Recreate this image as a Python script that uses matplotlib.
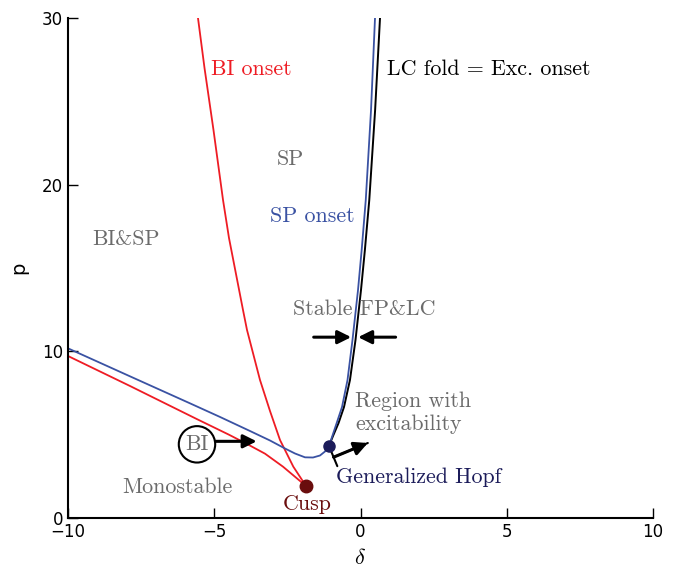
import matplotlib
matplotlib.use("Agg")
import matplotlib.pyplot as plt
from matplotlib.patches import ArrowStyle

plt.rcParams['mathtext.fontset'] = 'cm'

# BI onset, upper branch (from top down to the cusp)
bi_up_x = [-5.60, -5.556, -5.333, -5.026, -4.70, -4.496, -4.017, -3.88, -3.436, -3.094,
           -2.752, -2.297, -1.863]
bi_up_y = [30.5, 30.0, 27.0, 23.28, 19.08, 16.8, 12.48, 11.28, 8.28, 6.42,
           4.68, 3.08, 1.92]
# BI onset, lower branch (from left edge to the cusp)
bi_lo_x = [-10.0, -7.88, -5.60, -4.5, -3.89, -3.265, -2.65, -1.863]
bi_lo_y = [9.72, 7.92, 5.94, 5.0, 4.45, 3.86, 3.08, 1.92]
# SP onset
sp_x = [-10.0, -7.88, -5.829, -4.80, -3.778, -3.094, -2.581, -2.239, -1.897, -1.624,
        -1.385, -1.214, -1.077, -1.043, -0.814, -0.632, -0.444, -0.274, -0.085, 0.04,
        0.18, 0.36, 0.496, 0.52]
sp_y = [10.18, 8.50, 6.88, 6.06, 5.22, 4.65, 4.17, 3.87, 3.64, 3.63,
        3.75, 3.99, 4.32, 4.5, 5.7, 6.66, 8.28, 10.68, 13.68, 16.08,
        19.08, 24.48, 30.0, 30.8]
# LC fold
lc_x = [-1.077, -0.94, -0.75, -0.564, -0.36, -0.171, 0.017, 0.15, 0.30, 0.50, 0.667, 0.69]
lc_y = [4.32, 4.92, 5.7, 6.66, 8.28, 10.68, 13.68, 16.08, 19.08, 24.48, 30.0, 30.8]

cusp = (-1.863, 1.92)
hopf = (-1.077, 4.32)

red = '#ee1c24'
blue = '#3a52a3'
gray = '#6b6b6b'
navy = '#1c1c5a'
darkred = '#6a0d0d'
cm = 'cmr10'
fs = 15.8

fig = plt.figure(figsize=(6.85, 5.69), dpi=100)
ax = fig.add_axes([68/685, 51/569, 585/685, 500/569])

ax.plot(bi_up_x, bi_up_y, color=red, lw=1.3)
ax.plot(bi_lo_x, bi_lo_y, color=red, lw=1.3)
ax.plot(lc_x, lc_y, color='black', lw=1.4)
ax.plot(sp_x, sp_y, color=blue, lw=1.3)
ax.plot(*cusp, 'o', color=darkred, ms=9, zorder=5)
ax.plot(*hopf, 'o', color=navy, ms=8, zorder=5)

ax.text(-5.11, 26.9, 'BI onset', color=red, fontsize=fs, family=cm, va='center')
ax.text(0.9, 26.9, 'LC fold = Exc. onset', color='black', fontsize=fs, family=cm, va='center')
ax.text(-2.41, 21.5, 'SP', color=gray, fontsize=fs, family=cm, ha='center', va='center')
ax.text(-3.09, 18.1, 'SP onset', color=blue, fontsize=fs, family=cm, va='center')
ax.text(-9.18, 16.7, 'BI&SP', color=gray, fontsize=fs, family=cm, va='center')
ax.text(-2.31, 12.5, 'Stable FP&LC', color=gray, fontsize=fs, family=cm, va='center')
ax.text(-0.19, 6.33, 'Region with\nexcitability', color=gray, fontsize=fs, family=cm,
        va='center', linespacing=1.2)
ax.text(-8.15, 1.86, 'Monostable', color=gray, fontsize=fs, family=cm, va='center')
ax.text(-1.83, 0.84, 'Cusp', color=darkred, fontsize=fs, family=cm, ha='center', va='center')
ax.text(-0.84, 2.46, 'Generalized Hopf', color=navy, fontsize=fs, family=cm, va='center')

ax.text(-5.59, 4.42, 'BI', color=gray, fontsize=fs, family=cm, ha='center', va='center',
        bbox=dict(boxstyle='circle,pad=0.3', fc='white', ec='black', lw=1.5))

arr = dict(arrowstyle='-|>', color='black', lw=2.2, mutation_scale=20, shrinkA=0, shrinkB=0)
ax.annotate('', xy=(-3.55, 4.6), xytext=(-4.95, 4.6), arrowprops=arr)
ax.annotate('', xy=(-0.32, 10.85), xytext=(-1.6, 10.85), arrowprops=arr)
ax.annotate('', xy=(-0.08, 10.85), xytext=(1.2, 10.85), arrowprops=arr)
ax.annotate('', xy=(0.25, 4.5), xytext=(-0.92, 3.65), arrowprops=arr)
ax.annotate('', xy=(0.25, 4.5), xytext=(-0.92, 3.65),
            arrowprops=dict(arrowstyle=ArrowStyle('|-|', widthA=0.35, widthB=0.0),
                            color='black', lw=1.5, mutation_scale=20, shrinkA=0, shrinkB=0))

ax.set_xlim(-10, 10)
ax.set_ylim(0, 30)
ax.set_xticks([-10, -5, 0, 5, 10])
ax.set_yticks([0, 10, 20, 30])
ax.spines['top'].set_visible(False)
ax.spines['right'].set_visible(False)
ax.spines['left'].set_linewidth(1.5)
ax.spines['bottom'].set_linewidth(1.5)
ax.tick_params(direction='in', length=7, width=1, labelsize=12, top=False, right=False)
ax.set_xlabel(r'$\delta$', fontsize=16, labelpad=5)
ax.set_ylabel('p', fontsize=14, labelpad=10)

fig.savefig('out.png', dpi=100)
